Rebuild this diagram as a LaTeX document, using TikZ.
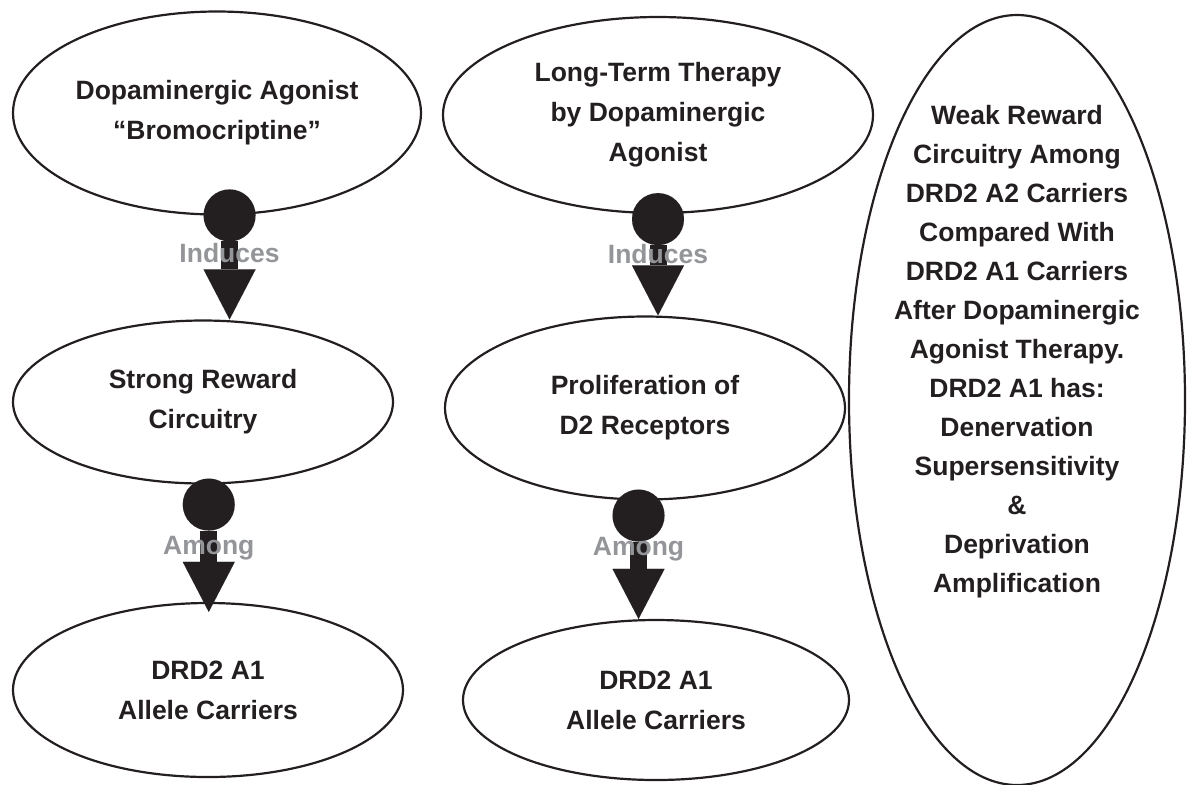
\documentclass[tikz,border=0pt]{standalone}
\usepackage{fontspec}
\setmainfont{Liberation Sans}
\usetikzlibrary{shapes.geometric,arrows.meta}

\definecolor{inkblack}{RGB}{35,31,32}
\definecolor{linkgray}{RGB}{147,149,152}

\tikzset{
  bubble/.style={ellipse,draw=inkblack,line width=1.1pt,inner sep=0pt,align=center,text=inkblack,font=\fontsize{13.25}{20}\selectfont\bfseries},
  bubbletext/.style={align=center,text=inkblack,font=\fontsize{13.25}{19.5}\selectfont\bfseries},
  flow/.style={draw=inkblack,line width=8.5pt,shorten <=#1,
    {Circle[length=26pt,line width=0.01pt]}-{Triangle[width=26pt,length=25pt,line width=0.01pt]}},
  flowlabel/.style={text=linkgray,font=\fontsize{13.25}{16}\selectfont\bfseries}
}

\begin{document}
\begin{tikzpicture}[x=0.5pt,y=-0.5pt]
\useasboundingbox (0,0) rectangle (1188,784);

\node[bubble,minimum width=204pt,minimum height=101.5pt] (agonist) at (217,113) {Dopaminergic Agonist\\``Bromocriptine''};
\node[bubble,minimum width=215pt,minimum height=98pt] (therapy) at (658,115) {Long-Term Therapy\\by Dopaminergic\\Agonist};

\node[bubble,minimum width=190pt,minimum height=81.5pt] (reward) at (203,402) {Strong Reward\\Circuitry};
\node[bubble,minimum width=200pt,minimum height=91.5pt] (prolif) at (645,408) {Proliferation of\\D2 Receptors};

\node[bubble,minimum width=195pt,minimum height=87pt] (carriersA) at (208,690) {DRD2 A1\\Allele Carriers};
\node[bubble,minimum width=193pt,minimum height=80pt] (carriersB) at (656,700) {DRD2 A1\\Allele Carriers};

\node[bubble,minimum width=168pt,minimum height=385pt] (weak) at (1017,400) {};
\node[bubbletext] (weaktext) at (1017,352) {Weak Reward\\Circuitry Among\\DRD2 A2 Carriers\\Compared With\\DRD2 A1 Carriers\\After Dopaminergic\\Agonist Therapy.\\DRD2 A1 has:\\Denervation\\Supersensitivity\\\&\\Deprivation\\Amplification};

\draw[flow=-13pt] (agonist.-83) -- (agonist.-83 |- reward.north) node[flowlabel,pos=.36] {Induces};
\draw[flow=-10.5pt] (therapy.south) -- (therapy.south |- prolif.north) node[flowlabel,pos=.39] {Induces};
\draw[flow=-3pt,shorten >=-5pt] (reward.-86.5) -- (reward.-86.5 |- carriersA.north) node[flowlabel,pos=.54] {Among};
\draw[flow=-5.5pt] (prolif.-94) -- (prolif.-94 |- carriersB.north) node[flowlabel,pos=.41] {Among};

\end{tikzpicture}
\end{document}
